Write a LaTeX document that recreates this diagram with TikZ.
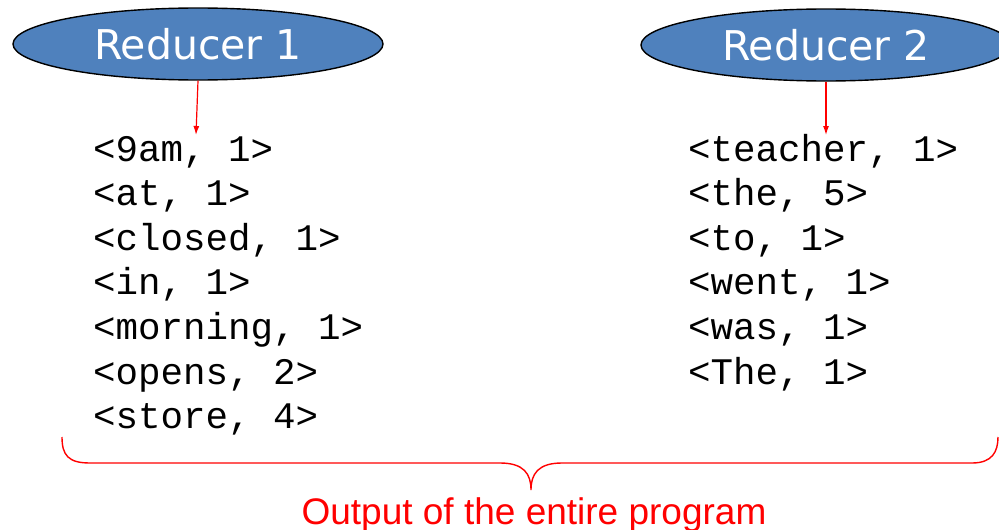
\documentclass[tikz,border=0pt]{standalone}
\usepackage{fontspec}
\setmainfont{Liberation Sans}
\newfontfamily\labelfont{DejaVu Sans}
\newfontfamily\pairfont{Liberation Mono}
\usetikzlibrary{shapes.geometric,arrows.meta}
\definecolor{reducerblue}{HTML}{4F81BD}
\definecolor{brred}{HTML}{FF0000}
\tikzset{
  reducer/.style={ellipse, draw=black, line width=1.4pt, fill=reducerblue,
    minimum width=370pt, minimum height=72pt, inner sep=0pt, text=white,
    font=\labelfont\fontsize{41}{48}\selectfont},
  pairline/.style={anchor=base west, inner sep=0pt,
    font=\pairfont\fontsize{37.5}{44}\selectfont},
  feed/.style={draw=brred, line width=1.2pt, -{Latex[length=9pt,width=6pt]}},
  bracepath/.style={draw=brred, line width=1.4pt},
}
\begin{document}
\begin{tikzpicture}[x=1pt,y=-1pt]
\useasboundingbox (0,0) rectangle (999,530);

% reducers
\node[reducer] (r1) at (198,44) {Reducer 1};
\node[reducer] (r2) at (826,45) {Reducer 2};

% feed arrows into the output lists
\coordinate (a1) at (196,135);
\coordinate (a2) at (826,135);
\draw[feed] (r1.south) -- (a1);
\draw[feed] (r2.south) -- (a2);

% output of reducer 1
\node[pairline] (l1) at (93,161) {<9am, 1>};
\node[pairline] (l2) at (93,205.6) {<at, 1>};
\node[pairline] (l3) at (93,250.2) {<closed, 1>};
\node[pairline] (l4) at (93,294.8) {<in, 1>};
\node[pairline] (l5) at (93,339.4) {<morning, 1>};
\node[pairline] (l6) at (93,384) {<opens, 2>};
\node[pairline] (l7) at (93,428.6) {<store, 4>};

% output of reducer 2
\node[pairline] (m1) at (688,161) {<teacher, 1>};
\node[pairline] (m2) at (688,205.6) {<the, 5>};
\node[pairline] (m3) at (688,250.2) {<to, 1>};
\node[pairline] (m4) at (688,294.8) {<went, 1>};
\node[pairline] (m5) at (688,339.4) {<was, 1>};
\node[pairline] (m6) at (688,384) {<The, 1>};

% brace under both lists
\draw[bracepath] (62,437) .. controls (62,455) and (68,463) .. (90,463)
  -- (500,463) .. controls (524,463) and (531,474) .. (531,490)
  .. controls (531,474) and (538,463) .. (562,463)
  -- (972,463) .. controls (992,463) and (998,452) .. (998,437);

\node[text=brred, font=\fontsize{37}{44}\selectfont, anchor=base] (cap) at (534,524) {Output of the entire program};
\end{tikzpicture}
\end{document}
